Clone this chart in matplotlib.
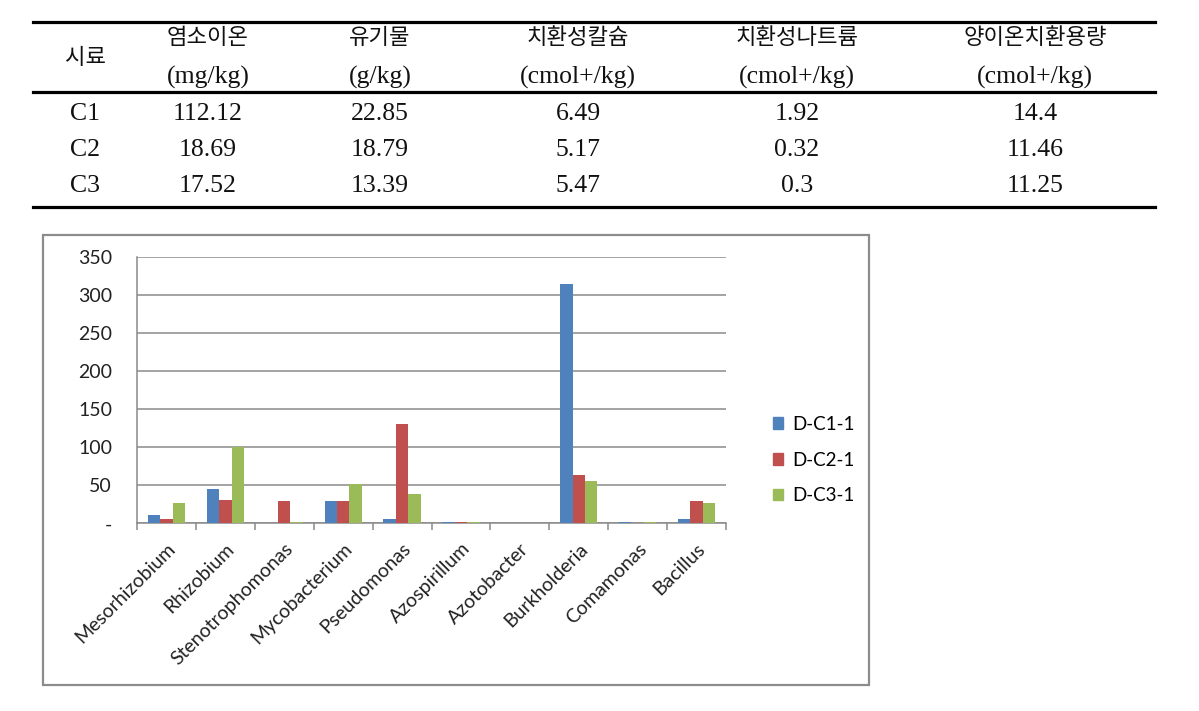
import matplotlib
matplotlib.use("Agg")
import matplotlib.pyplot as plt
from matplotlib.lines import Line2D
from matplotlib.patches import Rectangle
import numpy as np

# ---- table data ----
table_header_kr = ["시료", "염소이온", "유기물", "치환성칼슘", "치환성나트륨", "양이온치환용량"]
table_units = ["", "(mg/kg)", "(g/kg)", "(cmol+/kg)", "(cmol+/kg)", "(cmol+/kg)"]
samples = ["C1", "C2", "C3"]
chloride = ["112.12", "18.69", "17.52"]
organic = ["22.85", "18.79", "13.39"]
ex_ca = ["6.49", "5.17", "5.47"]
ex_na = ["1.92", "0.32", "0.3"]
cec = ["14.4", "11.46", "11.25"]

# ---- chart data ----
genera = ["Mesorhizobium", "Rhizobium", "Stenotrophomonas", "Mycobacterium",
          "Pseudomonas", "Azospirillum", "Azotobacter", "Burkholderia",
          "Comamonas", "Bacillus"]
series_names = ["D-C1-1", "D-C2-1", "D-C3-1"]
dc1 = [11, 45, 0, 29, 6, 2, 0, 314, 2, 6]
dc2 = [6, 31, 29, 29, 130, 2, 0, 63, 0, 29]
dc3 = [27, 100, 2, 51, 39, 2, 0, 56, 1.5, 26]
colors = ["#4F81BD", "#C0504D", "#9BBB59"]
yticks = [0, 50, 100, 150, 200, 250, 300, 350]
ytick_labels = ["-", "50", "100", "150", "200", "250", "300", "350"]

W, H = 1199, 711
fig = plt.figure(figsize=(W / 100, H / 100), dpi=100)

def fx(px):
    return px / W

def fy(py):
    return 1 - py / H

# ---- table ----
serif = ["Liberation Serif", "Noto Sans CJK KR"]
kr = ["Noto Sans CJK KR", "DejaVu Sans"]
for yy in (22, 92, 207):
    fig.add_artist(Line2D([fx(33), fx(1155)], [fy(yy), fy(yy)], color="black", lw=2.3))

col_x = [85, 208, 380, 578, 797, 1035]
fig.text(fx(col_x[0]), fy(58), table_header_kr[0], family=kr, fontsize=16,
         ha="center", va="center", color="#111111")
for i in range(1, 6):
    fig.text(fx(col_x[i]), fy(38), table_header_kr[i], family=kr, fontsize=16,
             ha="center", va="center", color="#111111")
    fig.text(fx(col_x[i]), fy(77), table_units[i], family=serif, fontsize=18.5,
             ha="center", va="center", color="#111111")

row_y = [114, 150, 186]
cols = [samples, chloride, organic, ex_ca, ex_na, cec]
for r in range(3):
    for c in range(6):
        fig.text(fx(col_x[c]), fy(row_y[r]), cols[c][r], family=serif, fontsize=18.5,
                 ha="center", va="center", color="#111111")

# ---- chart frame ----
fig.add_artist(Rectangle((fx(43), fy(685)), fx(869) - fx(43), fy(235) - fy(685),
                         fill=False, edgecolor="#8C8C8C", lw=1.6, transform=fig.transFigure))

ax = fig.add_axes([fx(137), fy(523.3), fx(726) - fx(137), fy(256.7) - fy(523.3)])
x = np.arange(len(genera))
bw = 0.21
for k, (vals, name) in enumerate(zip([dc1, dc2, dc3], series_names)):
    ax.bar(x + (k - 1) * bw, vals, width=bw, color=colors[k], label=name, zorder=3)

ax.set_xlim(-0.5, len(genera) - 0.5)
ax.set_ylim(0, 350)
ax.set_yticks(yticks)
ax.set_yticklabels(ytick_labels, family="Lato", fontsize=14, color="#222222")
ax.yaxis.grid(True, color="#8A8A8A", lw=1.1, zorder=0)
ax.set_axisbelow(True)
ax.tick_params(axis="y", length=0, pad=18)

ax.set_xticks(x)
ax.set_xticklabels(genera, family="Lato", fontsize=14, rotation=45, ha="right",
                   rotation_mode="anchor", color="#222222")
ax.tick_params(axis="x", length=0, pad=12)
ax.set_xticks(np.arange(-0.5, len(genera)), minor=True)
ax.tick_params(axis="x", which="minor", length=5, color="#8A8A8A", width=1.1)

for s in ["top", "right"]:
    ax.spines[s].set_visible(False)
ax.spines["left"].set_color("#8A8A8A")
ax.spines["bottom"].set_color("#8A8A8A")
ax.spines["left"].set_linewidth(1.1)
ax.spines["bottom"].set_linewidth(1.1)

handles = [Rectangle((0, 0), 1, 1, color=c) for c in colors]
fig.legend(handles, series_names, loc="center left",
           bbox_to_anchor=(fx(756), fy(460)), frameon=False,
           prop={"family": "Lato", "size": 13.5}, handlelength=0.55, handleheight=0.55,
           handletextpad=0.5, labelspacing=1.0)

fig.savefig("out.png", dpi=100, facecolor="white")
